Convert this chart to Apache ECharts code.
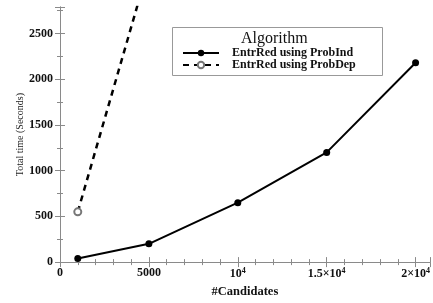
<!DOCTYPE html>
<html>
<head>
<meta charset="utf-8">
<script src="https://cdn.jsdelivr.net/npm/echarts@6/dist/echarts.min.js"></script>
<style>
  html, body { margin: 0; padding: 0; background: #fff; }
  #chart { width: 433px; height: 303px; }
</style>
</head>
<body>
<div id="chart"></div>
<script>
const candidates = [1000, 5000, 10000, 15000, 20000]
const probIndTime = [40, 200, 650, 1200, 2180]
const probDepCandidates = [1000, 5000]
const probDepTime = [550, 3240]
const xTickLabels = { 0: '0', 5000: '5000', 10000: '10{sup|4}', 15000: '1.5×10{sup|4}', 20000: '2×10{sup|4}' }
const yTickLabels = { 0: '0', 500: '500', 1000: '1000', 1500: '1500', 2000: '2000', 2500: '2500' }

const serif = '"Liberation Serif", "DejaVu Serif", serif'
const axisColor = '#8a8a8a'

const chart = echarts.init(document.getElementById('chart'), null, { renderer: 'canvas' })

// shared frame style for the four sides
const frameAxis = {
  axisLine: { show: true, lineStyle: { color: axisColor, width: 1 } },
  axisTick: { show: true, inside: true, length: 5, lineStyle: { color: axisColor } },
  minorTick: { show: true, length: 3, lineStyle: { color: axisColor } },
  splitLine: { show: false }
}

const option = {
  animation: false,
  backgroundColor: '#fff',
  grid: { left: 60, top: 7, width: 373, height: 262 },
  xAxis: [
    {
      type: 'value', min: 0, max: 20800, interval: 5000, position: 'bottom',
      ...frameAxis,
      minorTick: { ...frameAxis.minorTick, splitNumber: 5 },
      name: '#Candidates', nameLocation: 'middle', nameGap: 22,
      nameTextStyle: { fontFamily: serif, fontWeight: 'bold', fontSize: 12.5, color: '#111' },
      axisLabel: {
        margin: 5, fontFamily: serif, fontWeight: 'bold', fontSize: 12, color: '#111',
        formatter: v => xTickLabels[v] ?? '',
        rich: { sup: { fontFamily: serif, fontWeight: 'bold', fontSize: 8, color: '#111', verticalAlign: 'top', padding: [0, 0, 6, 0] } }
      }
    },
    {
      type: 'value', min: 0, max: 20800, interval: 5000, position: 'top',
      ...frameAxis,
      minorTick: { ...frameAxis.minorTick, splitNumber: 5 },
      axisLabel: { show: false }
    }
  ],
  yAxis: [
    {
      type: 'value', min: 0, max: 2790, interval: 500, position: 'left',
      ...frameAxis,
      minorTick: { ...frameAxis.minorTick, splitNumber: 2 },
      name: 'Total time (Seconds)', nameLocation: 'middle', nameGap: 35, nameMoveOverlap: false,
      nameTextStyle: { fontFamily: serif, fontSize: 10, color: '#222' },
      axisLabel: {
        margin: 7, fontFamily: serif, fontWeight: 'bold', fontSize: 12, color: '#111',
        showMaxLabel: false,
        formatter: v => yTickLabels[v] ?? ''
      }
    },
    {
      type: 'value', min: 0, max: 2790, interval: 500, position: 'right',
      ...frameAxis,
      minorTick: { ...frameAxis.minorTick, splitNumber: 2 },
      axisLabel: { show: false }
    }
  ],
  legend: {
    left: 182, top: 47, padding: 0, orient: 'vertical', itemGap: 0, itemWidth: 36, itemHeight: 8,
    textStyle: { fontFamily: serif, fontWeight: 'bold', fontSize: 12, lineHeight: 11, color: '#111', padding: [0, 0, 0, 8] },
    data: ['EntrRed using ProbInd', 'EntrRed using ProbDep']
  },
  graphic: [
    {
      type: 'rect', left: 172, top: 27, shape: { width: 210, height: 48 },
      style: { fill: '#fff', stroke: '#999', lineWidth: 1 }, z: 0
    },
    {
      type: 'text', left: 241, top: 31,
      style: { text: 'Algorithm', font: `16px ${serif}`, fill: '#111' }, z: 5
    }
  ],
  series: [
    {
      name: 'EntrRed using ProbInd', type: 'line',
      data: candidates.map((c, i) => [c, probIndTime[i]]),
      symbol: 'circle', symbolSize: 7,
      lineStyle: { color: '#000', width: 2 },
      itemStyle: { color: '#000' }
    },
    {
      name: 'EntrRed using ProbDep', type: 'line',
      data: probDepCandidates.map((c, i) => [c, probDepTime[i]]),
      symbol: 'emptyCircle', symbolSize: 7,
      lineStyle: { color: '#000', width: 2.5, type: [6, 5] },
      itemStyle: { color: '#777', borderColor: '#777', borderWidth: 1 }
    }
  ]
}

chart.setOption(option)
</script>
</body>
</html>
